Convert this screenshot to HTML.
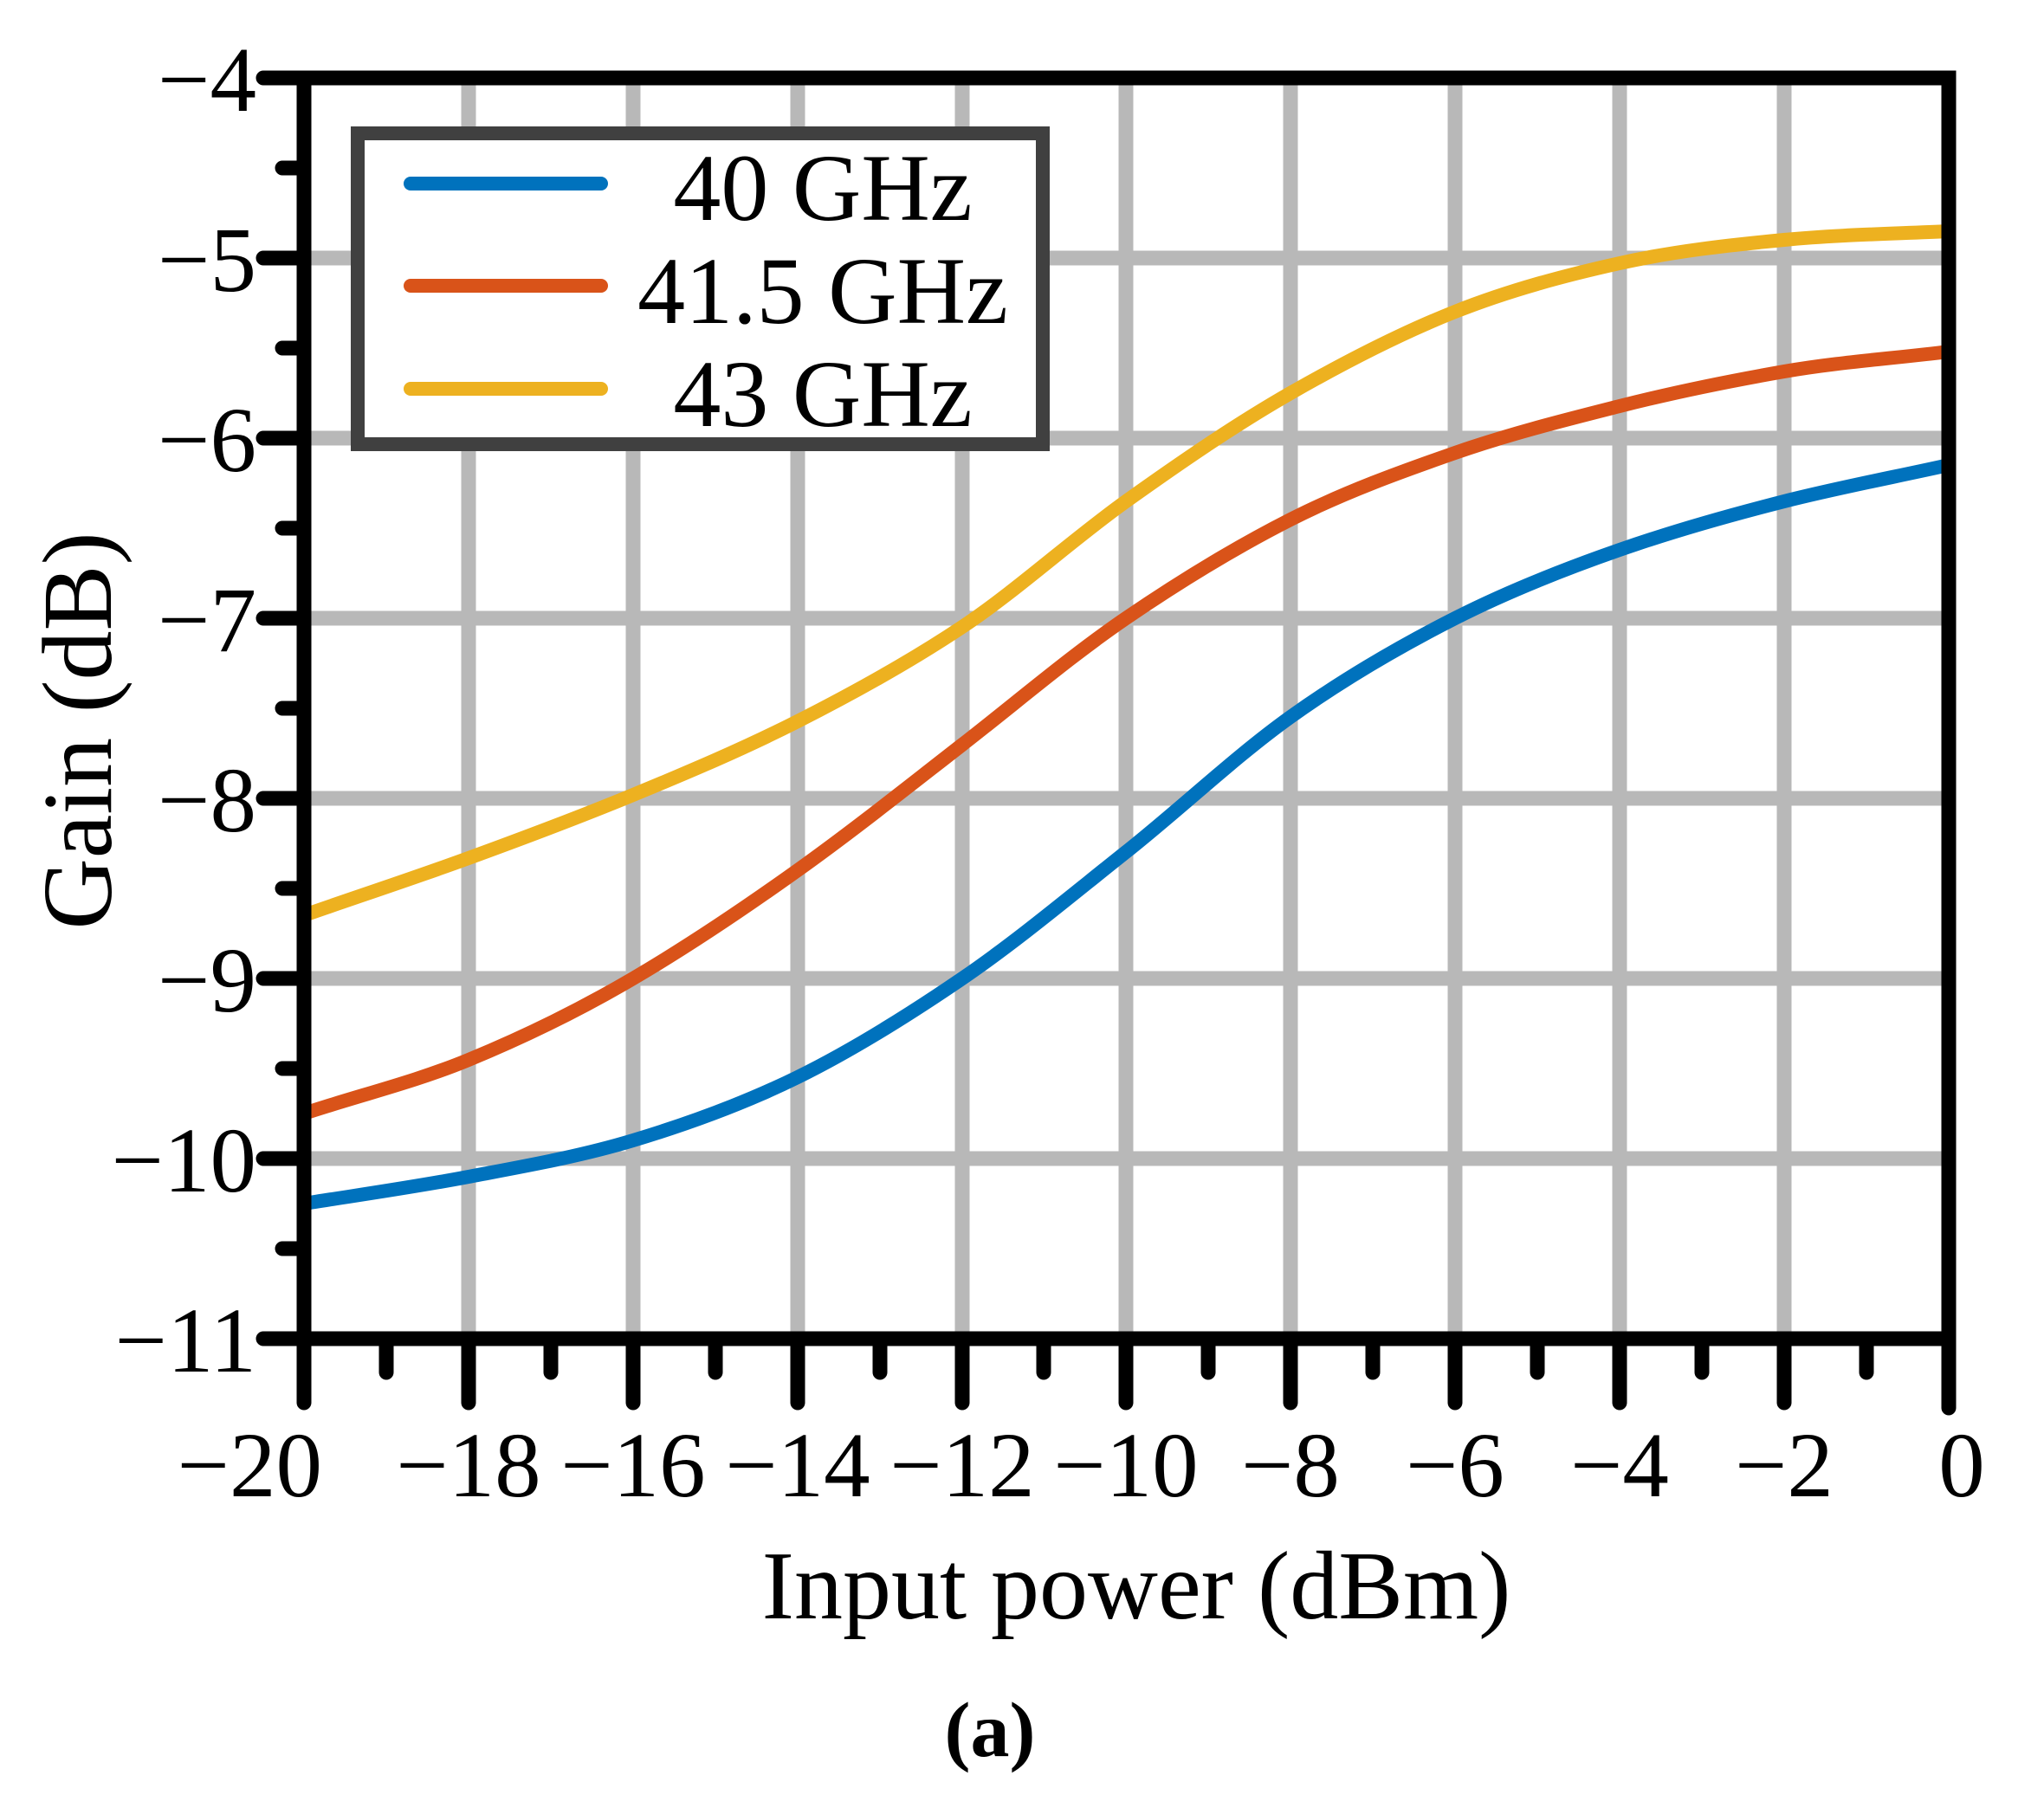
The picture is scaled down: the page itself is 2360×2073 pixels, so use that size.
<!DOCTYPE html>
<html><head><meta charset="utf-8"><style>html,body{margin:0;padding:0;background:#fff;}</style></head>
<body>
<svg width="2360" height="2068" viewBox="0 0 2360 2068" xmlns="http://www.w3.org/2000/svg" font-family="Liberation Serif, serif">
<rect width="2360" height="2068" fill="#fff"/>
<g stroke="#b8b8b8" stroke-width="17">
<line x1="541" y1="90" x2="541" y2="1546"/><line x1="731" y1="90" x2="731" y2="1546"/><line x1="921" y1="90" x2="921" y2="1546"/><line x1="1111" y1="90" x2="1111" y2="1546"/><line x1="1300" y1="90" x2="1300" y2="1546"/><line x1="1490" y1="90" x2="1490" y2="1546"/><line x1="1680" y1="90" x2="1680" y2="1546"/><line x1="1870" y1="90" x2="1870" y2="1546"/><line x1="2060" y1="90" x2="2060" y2="1546"/>
<line x1="351" y1="298" x2="2250" y2="298"/><line x1="351" y1="506" x2="2250" y2="506"/><line x1="351" y1="714" x2="2250" y2="714"/><line x1="351" y1="922" x2="2250" y2="922"/><line x1="351" y1="1130" x2="2250" y2="1130"/><line x1="351" y1="1338" x2="2250" y2="1338"/>
</g>
<g fill="none" stroke-width="16" stroke-linecap="round" stroke-linejoin="round">
<path stroke="#0072bd" d="M351,1390 C414,1380 478,1371 541,1359 C604,1347 668,1336 731,1317 C794,1298 858,1275 921,1244 C984,1213 1048,1173 1111,1130 C1174,1087 1237,1034 1300,984 C1363,934 1427,873 1490,828 C1553,783 1617,746 1680,714 C1743,682 1807,657 1870,635 C1933,613 1997,595 2060,579 C2123,563 2187,551 2250,537"/>
<path stroke="#d95319" d="M351,1286 C414,1265 478,1250 541,1224 C604,1198 668,1167 731,1130 C794,1093 858,1050 921,1005 C984,960 1048,909 1111,860 C1174,811 1237,757 1300,714 C1363,671 1427,632 1490,600 C1553,568 1617,545 1680,523 C1743,501 1807,485 1870,469 C1933,453 1997,440 2060,429 C2123,418 2187,414 2250,406"/>
<path stroke="#edb120" d="M351,1057 C414,1035 478,1014 541,991 C604,968 668,944 731,918 C794,892 858,865 921,833 C984,801 1048,766 1111,724 C1174,682 1237,624 1300,579 C1363,534 1427,490 1490,454 C1553,418 1617,385 1680,360 C1743,335 1807,318 1870,304 C1933,290 1997,283 2060,277 C2123,271 2187,270 2250,267"/>
</g>
<g stroke="#000" stroke-width="17" stroke-linecap="round" fill="none">
<rect x="351" y="90" width="1899" height="1456" stroke-linecap="butt"/>
<line x1="304" y1="90" x2="351" y2="90"/><line x1="304" y1="298" x2="351" y2="298"/><line x1="304" y1="506" x2="351" y2="506"/><line x1="304" y1="714" x2="351" y2="714"/><line x1="304" y1="922" x2="351" y2="922"/><line x1="304" y1="1130" x2="351" y2="1130"/><line x1="304" y1="1338" x2="351" y2="1338"/><line x1="304" y1="1546" x2="351" y2="1546"/>
<line x1="326" y1="194" x2="351" y2="194"/><line x1="326" y1="402" x2="351" y2="402"/><line x1="326" y1="610" x2="351" y2="610"/><line x1="326" y1="818" x2="351" y2="818"/><line x1="326" y1="1026" x2="351" y2="1026"/><line x1="326" y1="1234" x2="351" y2="1234"/><line x1="326" y1="1442" x2="351" y2="1442"/>
<line x1="351" y1="1546" x2="351" y2="1620"/><line x1="541" y1="1546" x2="541" y2="1620"/><line x1="731" y1="1546" x2="731" y2="1620"/><line x1="921" y1="1546" x2="921" y2="1620"/><line x1="1111" y1="1546" x2="1111" y2="1620"/><line x1="1300" y1="1546" x2="1300" y2="1620"/><line x1="1490" y1="1546" x2="1490" y2="1620"/><line x1="1680" y1="1546" x2="1680" y2="1620"/><line x1="1870" y1="1546" x2="1870" y2="1620"/><line x1="2060" y1="1546" x2="2060" y2="1620"/><line x1="2250" y1="1546" x2="2250" y2="1626"/>
<line x1="446" y1="1546" x2="446" y2="1585"/><line x1="636" y1="1546" x2="636" y2="1585"/><line x1="826" y1="1546" x2="826" y2="1585"/><line x1="1016" y1="1546" x2="1016" y2="1585"/><line x1="1205" y1="1546" x2="1205" y2="1585"/><line x1="1395" y1="1546" x2="1395" y2="1585"/><line x1="1585" y1="1546" x2="1585" y2="1585"/><line x1="1775" y1="1546" x2="1775" y2="1585"/><line x1="1965" y1="1546" x2="1965" y2="1585"/><line x1="2155" y1="1546" x2="2155" y2="1585"/>
</g>
<g font-size="107" fill="#000" text-anchor="end">
<text x="296" y="128">−4</text><text x="296" y="336">−5</text><text x="296" y="544">−6</text><text x="296" y="752">−7</text><text x="296" y="960">−8</text><text x="296" y="1168">−9</text><text x="296" y="1376">−10</text><text x="296" y="1584">−11</text>
</g>
<g font-size="107" fill="#000" text-anchor="middle">
<text x="372" y="1728" text-anchor="end">−20</text><text x="541" y="1728">−18</text><text x="731" y="1728">−16</text><text x="921" y="1728">−14</text><text x="1111" y="1728">−12</text><text x="1300" y="1728">−10</text><text x="1490" y="1728">−8</text><text x="1680" y="1728">−6</text><text x="1870" y="1728">−4</text><text x="2060" y="1728">−2</text><text x="2265" y="1728">0</text>
<text x="1312" y="1869" font-size="112">Input power (dBm)</text>
<text x="1143" y="2028" font-size="90" font-weight="bold">(a)</text>
<text transform="translate(128,844) rotate(-90)" font-size="114">Gain (dB)</text>
</g>
<rect x="413" y="154" width="791" height="359" fill="#fff" stroke="#404040" stroke-width="16"/>
<g stroke-width="16" stroke-linecap="round">
<line x1="474" y1="212" x2="694" y2="212" stroke="#0072bd"/>
<line x1="474" y1="330" x2="694" y2="330" stroke="#d95319"/>
<line x1="474" y1="449" x2="694" y2="449" stroke="#edb120"/>
</g>
<g font-size="110" fill="#000" text-anchor="middle">
<text x="950" y="254">40 GHz</text><text x="950" y="373">41.5 GHz</text><text x="950" y="492">43 GHz</text>
</g>
</svg>
</body></html>
